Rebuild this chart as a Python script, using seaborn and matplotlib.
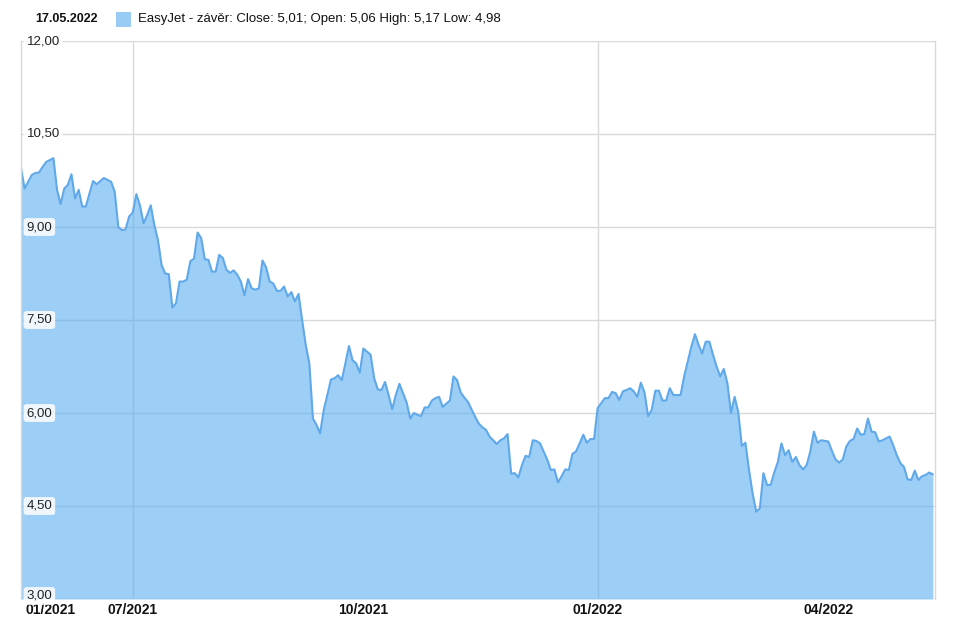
import numpy as np
import pandas as pd
import seaborn as sns
import matplotlib
matplotlib.use("Agg")
import matplotlib.pyplot as plt
from matplotlib.patches import Rectangle
from matplotlib import transforms

# ---- data (EasyJet close prices) ----
h1_2021 = [9.95, 9.62, 9.73, 9.84, 9.87, 9.88, 9.97, 10.05, 10.08, 10.11,
           9.60, 9.37, 9.62, 9.68, 9.85, 9.46, 9.60, 9.33, 9.33, 9.54,
           9.74, 9.69, 9.74, 9.79, 9.76, 9.73, 9.57, 9.00, 8.95, 8.96, 9.17]
q3_2021 = [9.23, 9.53, 9.35, 9.06, 9.19, 9.35, 9.03, 8.79, 8.39, 8.25,
           8.24, 7.70, 7.77, 8.12, 8.12, 8.15, 8.45, 8.49, 8.91, 8.82,
           8.48, 8.47, 8.28, 8.28, 8.55, 8.50, 8.31, 8.26, 8.30, 8.23,
           8.12, 7.90, 8.16, 8.01, 7.99, 8.01, 8.46, 8.35, 8.12, 8.09,
           7.97, 7.97, 8.04, 7.88, 7.95, 7.80, 7.92, 7.50, 7.10, 6.80,
           5.91, 5.81, 5.67, 6.05, 6.29, 6.54, 6.56, 6.61, 6.53, 6.80,
           7.08, 6.85, 6.80, 6.65]
q4_2021 = [7.04, 6.99, 6.94, 6.56, 6.38, 6.37, 6.50, 6.29, 6.06, 6.29,
           6.47, 6.32, 6.17, 5.91, 6.00, 5.97, 5.95, 6.09, 6.09, 6.20,
           6.24, 6.26, 6.10, 6.15, 6.20, 6.59, 6.53, 6.33, 6.25, 6.18,
           6.06, 5.94, 5.83, 5.77, 5.73, 5.62, 5.56, 5.50, 5.56, 5.59,
           5.66, 5.02, 5.03, 4.96, 5.16, 5.31, 5.29, 5.56, 5.55, 5.51,
           5.38, 5.25, 5.08, 5.09, 4.88, 4.98, 5.09, 5.08, 5.34, 5.38,
           5.51, 5.65, 5.52, 5.58, 5.58]
q1_2022 = [6.08, 6.16, 6.24, 6.24, 6.34, 6.32, 6.21, 6.35, 6.37, 6.40,
           6.35, 6.26, 6.49, 6.33, 5.95, 6.05, 6.36, 6.36, 6.20, 6.20,
           6.40, 6.29, 6.29, 6.29, 6.59, 6.83, 7.07, 7.27, 7.10, 6.96,
           7.15, 7.15, 6.94, 6.75, 6.59, 6.71, 6.48, 6.00, 6.26, 6.02,
           5.47, 5.52, 5.08, 4.70, 4.41, 4.46, 5.03, 4.84, 4.84, 5.04,
           5.21, 5.51, 5.32, 5.40, 5.21, 5.29, 5.16, 5.09, 5.16, 5.38,
           5.70, 5.52, 5.56, 5.55]
q2_2022 = [5.54, 5.39, 5.25, 5.20, 5.25, 5.46, 5.55, 5.58, 5.75, 5.65,
           5.66, 5.91, 5.70, 5.69, 5.54, 5.56, 5.59, 5.62, 5.48, 5.32,
           5.19, 5.13, 4.93, 4.92, 5.07, 4.92, 4.98, 5.00, 5.04, 5.01]

period_labels = ["01/2021", "07/2021", "10/2021", "01/2022", "04/2022"]
y_ticks = [3.0, 4.5, 6.0, 7.5, 9.0, 10.5, 12.0]
legend_date = "17.05.2022"
legend_text = "EasyJet - závěr: Close: 5,01; Open: 5,06 High: 5,17 Low: 4,98"

segments = [h1_2021, q3_2021, q4_2021, q1_2022, q2_2022]
close = np.concatenate(segments)
starts = np.cumsum([0] + [len(s) for s in segments[:-1]])
df = pd.DataFrame({"i": np.arange(len(close)), "close": close})

# ---- styling ----
sns.set_style("white")
plt.rcParams["font.family"] = ["Liberation Sans", "DejaVu Sans"]

W, H = 956, 625
fig = plt.figure(figsize=(W / 100, H / 100), dpi=100)
L, R, T, B = 21, 935, 41, 599
ax = fig.add_axes([L / W, 1 - B / H, (R - L) / W, (B - T) / H])
ax.set_ylim(3, 12)
ax.set_xlim(0, len(close) - 1 + 0.6)

grid_c = "#d9d9d9"
for yv in y_ticks:
    ax.axhline(yv, color=grid_c, lw=1, zorder=0)
for s in (starts[1], starts[3]):
    ax.axvline(s, color=grid_c, lw=1, zorder=0)

ax.fill_between(df["i"], 3, df["close"], color="#5BAEF0", alpha=0.6, lw=0, zorder=1)
sns.lineplot(data=df, x="i", y="close", color="#5FA8EA", lw=1.5, ax=ax, zorder=2)

for side in ["top", "bottom"]:
    ax.spines[side].set_visible(False)
for side in ["left", "right"]:
    ax.spines[side].set_color(grid_c)
    ax.spines[side].set_linewidth(1)

ax.set_xlabel("")
ax.set_ylabel("")
ax.set_yticks([])
ax.set_xticks(starts)
ax.set_xticklabels(period_labels, fontsize=10, fontweight="bold", color="#111111")
ax.tick_params(axis="x", length=0, pad=3)
first = ax.get_xticklabels()[0]
first.set_ha("left")
first.set_transform(first.get_transform() +
                    transforms.ScaledTranslation(5 / 100, 0, fig.dpi_scale_trans))

trans = transforms.blended_transform_factory(ax.transAxes, ax.transData)
for yv in y_ticks:
    dy = 3 / 100 if yv == y_ticks[0] else 0
    t = trans + transforms.ScaledTranslation(0, dy, fig.dpi_scale_trans)
    ax.text(5.5 / (R - L), yv, f"{yv:.2f}".replace(".", ","), transform=t,
            ha="left", va="center", fontsize=9.5, color="#222222", zorder=5,
            bbox=dict(boxstyle="round,pad=0.22", fc="white", ec="none", alpha=0.85))

# ---- header / legend ----
fig.text(35 / W, 1 - 19 / H, legend_date, fontsize=9, fontweight="bold",
         va="center", ha="left", color="#111111")
fig.patches.append(Rectangle((116 / W, 1 - 27 / H), 15 / W, 15 / H,
                             transform=fig.transFigure, fc="#99CCF5", ec="none"))
fig.text(138 / W, 1 - 19 / H, legend_text, fontsize=9.5, va="center", ha="left",
         color="#111111")

fig.savefig("out.png", dpi=100)
